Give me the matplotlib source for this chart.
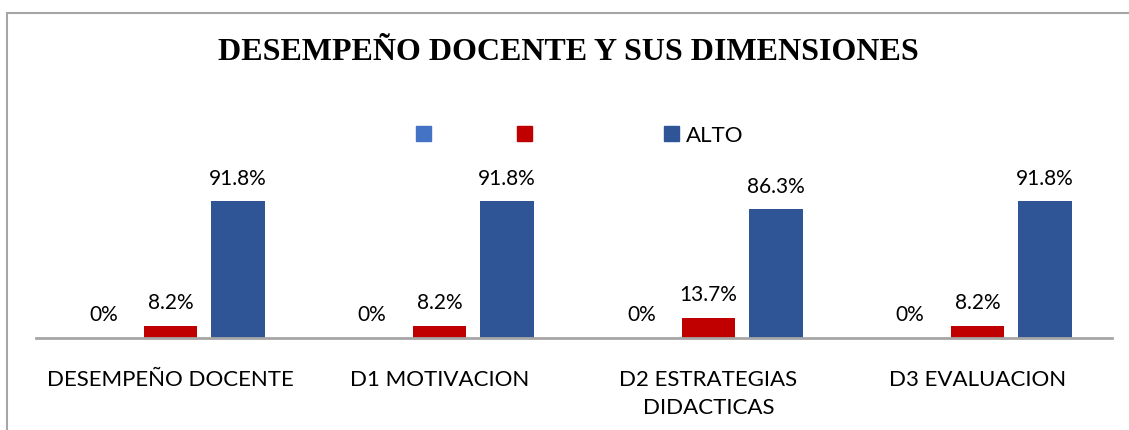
import matplotlib
matplotlib.use("Agg")
import matplotlib.pyplot as plt
from matplotlib.patches import Rectangle
import numpy as np

categories = ["DESEMPEÑO DOCENTE", "D1 MOTIVACION", "D2 ESTRATEGIAS\nDIDACTICAS", "D3 EVALUACION"]
series_names = ["", "", "ALTO"]
bajo = [0, 0, 0, 0]
medio = [8.2, 8.2, 13.7, 8.2]
alto = [91.8, 91.8, 86.3, 91.8]
bajo_labels = ["0%", "0%", "0%", "0%"]
medio_labels = ["8.2%", "8.2%", "13.7%", "8.2%"]
alto_labels = ["91.8%", "91.8%", "86.3%", "91.8%"]
title = "DESEMPEÑO DOCENTE Y SUS DIMENSIONES"

colors = ["#4472C4", "#C00000", "#2F5597"]
font = ["Lato", "DejaVu Sans"]

W, H = 1129, 430
fig = plt.figure(figsize=(W / 100, H / 100), dpi=100)

# outer frame (left + top edges visible)
fig.add_artist(Rectangle((7 / W, -0.1), 1.2, (H - 13) / H + 0.1, transform=fig.transFigure,
                         fill=False, edgecolor="#A6A6A6", linewidth=1.5))

ax_left, ax_right = 36 / W, 1112 / W
ax_bottom = (H - 338) / H
ax_top = (H - 189) / H
ax = fig.add_axes([ax_left, ax_bottom, ax_right - ax_left, ax_top - ax_bottom])
ax.set_xlim(-0.5, len(categories) - 0.5)
ax.set_ylim(0, 100)

x = np.arange(len(categories))
bw = 0.2
offsets = [-0.25, 0.0, 0.25]
series = [bajo, medio, alto]
labels = [bajo_labels, medio_labels, alto_labels]
for s, off, col, labs in zip(series, offsets, colors, labels):
    bars = ax.bar(x + off, s, width=bw, color=col, clip_on=False)
    for b, v, lab in zip(bars, s, labs):
        ax.annotate(lab, (b.get_x() + b.get_width() / 2, v), xytext=(0, 16.3),
                    textcoords="offset points", ha="center", va="center",
                    fontsize=15, family=font, color="#000000", annotation_clip=False)

for sp in ["top", "right", "left"]:
    ax.spines[sp].set_visible(False)
ax.spines["bottom"].set_color("#A6A6A6")
ax.spines["bottom"].set_linewidth(2)
ax.set_yticks([])
ax.set_xticks(x)
ax.set_xticklabels(categories, fontsize=16, family=font, linespacing=1.5)
ax.tick_params(axis="x", length=0, pad=23)

fig.text(568 / W, 1 - 53 / H, title, ha="center", va="center", fontsize=23,
         fontweight="bold", family=["Liberation Serif"])

# legend
leg_items = [(416, 0), (517, 1), (664, 2)]
for px, i in leg_items:
    fig.add_artist(Rectangle((px / W, 1 - 141 / H), 15 / W, 15 / H,
                             transform=fig.transFigure, color=colors[i]))
    if series_names[i]:
        fig.text((px + 22) / W, 1 - 136 / H, series_names[i], ha="left", va="center",
                 fontsize=16, family=font)

fig.savefig("out.png", dpi=100)
